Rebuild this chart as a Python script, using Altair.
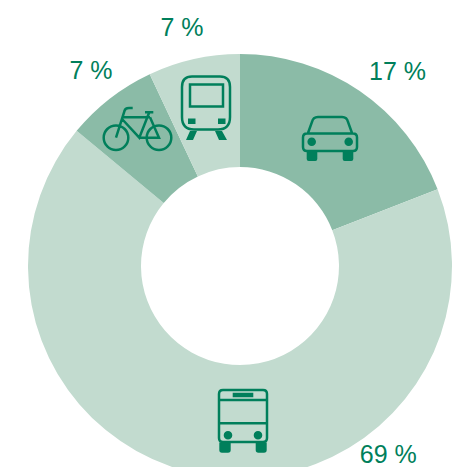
import altair as alt
import pandas as pd

categories = ["Car", "Bus", "Bicycle", "Train"]
drawn_shares = [19.1, 66.9, 7.0, 7.0]
slice_colors = ["#8BBBA7", "#C2DBCF", "#8BBBA7", "#C2DBCF"]
labels = ["17 %", "69 %", "7 %", "7 %"]
label_turns = [10.85, 39.4, 89.6, 96.2]
label_radii = [250, 240, 245, 245]

INK = "#007F5B"
CX, CY = 232, 258

starts, ends, total = [], [], 0.0
for s in drawn_shares:
    starts.append(total)
    total += s
    ends.append(total)

df = pd.DataFrame({
    "category": categories, "start": starts, "end": ends, "color": slice_colors,
    "label": labels, "turn": label_turns, "r": label_radii,
})

theta_scale = alt.Scale(domain=[0, 100], range=[0, 6.283185307])

arcs = alt.Chart(df).mark_arc(radius=212, radius2=99, strokeWidth=0).encode(
    theta=alt.Theta("start:Q", scale=theta_scale, stack=None),
    theta2="end:Q",
    color=alt.Color("color:N", scale=None),
    x=alt.value(CX), y=alt.value(CY),
)

texts = alt.Chart(df).mark_text(
    font="Liberation Sans", fontSize=25, color=INK, align="center", baseline="middle"
).encode(
    theta=alt.Theta("turn:Q", scale=theta_scale, stack=None),
    radius=alt.Radius("r:Q", scale=None),
    text="label:N",
    x=alt.value(CX), y=alt.value(CY),
)

def circ(x, y, r):
    return f"M{x-r} {y}A{r} {r} 0 1 1 {x+r} {y}A{r} {r} 0 1 1 {x-r} {y}Z"

train_line = ("M-14 -26.5H14Q24 -26.5 24 -16V14Q24 26.5 12 26.5H-12Q-24 26.5 -24 14V-16Q-24 -26.5 -14 -26.5Z"
              "M-16 -18.5H17V3.5H-16Z")
train_fill = ("M-18 15.5H-10.5V21H-18ZM12 15.5H19.5V21H12Z"
              "M-16 28H-9L-13 37H-20ZM9 28H16L21 37H13Z")
bike_line = (circ(-22, 7.7, 12.3) + circ(21, 7.7, 12.3) +
             "M-22 7.7L-13.5 -19Q-13 -22 -9 -22H-5.3M-16.3 -12.7H12M-15.5 -10.5L1.3 7.7L11.3 -17.7"
             "M1.3 7.7H21L12 -12.7M7 -17.7H15.3")
car_line = ("M-23 -4.5H23Q27 -4.5 27 -0.5V9Q27 13 23 13H-23Q-27 13 -27 9V-0.5Q-27 -4.5 -23 -4.5Z"
            "M-22 -5L-18 -16Q-17 -21 -12 -21H12Q17 -21 18 -16L22 -5")
car_fill = (circ(-18.3, 3.7, 4.3) + circ(18.7, 3.7, 4.3) +
            "M-23.3 13.7H-12.7V21Q-12.7 23 -14.7 23H-21.3Q-23.3 23 -23.3 21Z"
            "M12.7 13.7H23.3V21Q23.3 23 21.3 23H14.7Q12.7 23 12.7 21Z")
bus_line = ("M-20 -26H20Q24 -26 24 -22V22Q24 26 20 26H-20Q-24 26 -24 22V-22Q-24 -26 -20 -26Z"
            "M-24 -16H24M-24 7.3H24")
bus_fill = ("M-10.3 -23.3H10.3V-18.7H-10.3Z" + circ(-15, 19.3, 4.3) + circ(15, 19.3, 4.3) +
            "M-23.7 26.5H-12.3V34Q-12.3 36.7 -15 36.7H-21Q-23.7 36.7 -23.7 34Z"
            "M12.7 26.5H23.7V34Q23.7 36.7 21 36.7H15.4Q12.7 36.7 12.7 34Z")

def icon(px, py, line, fill=None):
    x, y = alt.value(px - 8), alt.value(py - 8)
    base = alt.Chart(pd.DataFrame({"icon": [0]}))
    layers = [base.mark_point(shape=line, size=4, filled=False, stroke=INK, strokeWidth=2.5,
                              opacity=1).encode(x=x, y=y)]
    if fill:
        layers.append(base.mark_point(shape=fill, size=4, filled=True, fill=INK, strokeWidth=0,
                                      opacity=1).encode(x=x, y=y))
    return layers

layers = [arcs, texts]
layers += icon(206, 103, train_line, train_fill)
layers += icon(138, 130, bike_line)
layers += icon(330, 138, car_line, car_fill)
layers += icon(243, 416, bus_line, bus_fill)

chart = alt.layer(*layers).properties(
    width=445, height=459, padding=0, background="white",
    autosize=alt.AutoSizeParams(type="none")
).configure_view(stroke=None)

chart.save("out.html", embed_options={"renderer": "svg", "actions": False})
